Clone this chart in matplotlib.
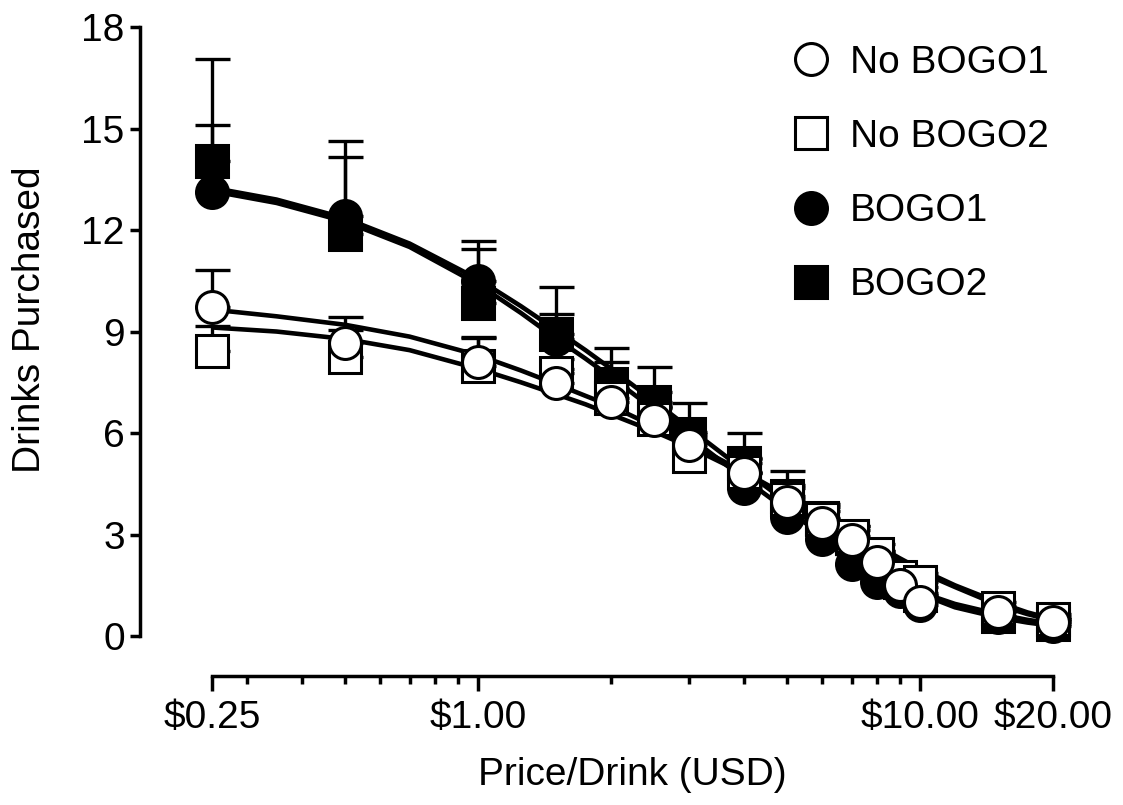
import numpy as np
import matplotlib
matplotlib.use("Agg")
import matplotlib.pyplot as plt
from matplotlib.lines import Line2D
from matplotlib.ticker import FixedLocator, NullFormatter

plt.rcParams['font.family'] = ['Liberation Sans', 'DejaVu Sans']

# ---------------- data ----------------
prices = [0.25, 0.5, 1, 1.5, 2, 2.5, 3, 4, 5, 6, 7, 8, 9, 10, 15, 20]

no_bogo1 = [9.73, 8.65, 8.11, 7.49, 6.93, 6.38, 5.64, 4.83, 3.97, 3.34, 2.84, 2.20, 1.51, 1.01, 0.70, 0.42]
no_bogo1_err = [1.09, 0.78, 0.72, 0.40, 0.40, 0.40, 0.40, 0.40, 0.40, 0.35, 0.30, 0.30, 0.25, 0.25, 0.20, 0.15]

no_bogo2 = [8.42, 8.24, 7.97, 7.78, 7.05, 6.41, 5.33, 4.85, 4.05, 3.45, 2.95, 2.42, 1.75, 1.60, 0.82, 0.49]
no_bogo2_err = [0.75, 0.80, 0.85, 0.40, 0.40, 0.40, 0.40, 0.40, 0.40, 0.35, 0.30, 0.30, 0.25, 0.25, 0.20, 0.15]

bogo1 = [13.13, 12.40, 10.50, 8.79, 7.30, 6.75, 5.44, 4.38, 3.52, 2.87, 2.13, 1.60, 1.33, 0.93, 0.55, 0.30]
bogo1_err = [1.97, 1.77, 0.93, 0.73, 0.81, 0.45, 0.45, 0.45, 0.40, 0.35, 0.30, 0.30, 0.25, 0.25, 0.20, 0.15]

bogo2 = [14.04, 11.88, 9.83, 8.92, 7.44, 6.93, 5.96, 5.12, 4.14, 3.50, 2.90, 2.20, 1.60, 1.20, 0.60, 0.35]
bogo2_err = [3.01, 2.75, 1.86, 1.41, 1.08, 1.03, 0.92, 0.87, 0.74, 0.40, 0.35, 0.30, 0.25, 0.25, 0.20, 0.15]

# fitted demand curves
curve_prices = [0.25, 0.35, 0.5, 0.7, 1, 1.25, 1.5, 1.75, 2, 2.5, 3, 4, 5, 6, 7, 8, 9, 10, 12, 15, 17.5, 20]
curve_no_bogo1 = [9.65, 9.45, 9.20, 8.85, 8.30, 7.85, 7.45, 7.10, 6.80, 6.20, 5.70, 4.85, 4.15, 3.55, 3.05, 2.60, 2.20, 1.90, 1.45, 0.92, 0.65, 0.46]
curve_no_bogo2 = [9.12, 9.00, 8.78, 8.45, 7.90, 7.50, 7.15, 6.85, 6.55, 6.05, 5.60, 4.80, 4.15, 3.60, 3.10, 2.68, 2.30, 1.98, 1.50, 1.00, 0.70, 0.50]
curve_bogo1 = [13.15, 12.80, 12.25, 11.50, 10.40, 9.55, 8.80, 8.20, 7.65, 6.70, 5.90, 4.65, 3.72, 3.00, 2.42, 1.95, 1.58, 1.25, 0.85, 0.55, 0.40, 0.30]
curve_bogo2 = [13.25, 12.90, 12.35, 11.60, 10.55, 9.75, 9.05, 8.45, 7.90, 6.95, 6.15, 4.90, 3.95, 3.20, 2.60, 2.10, 1.70, 1.30, 0.95, 0.65, 0.48, 0.37]

labels = ['No BOGO1', 'No BOGO2', 'BOGO1', 'BOGO2']
x_major = [0.25, 1, 10, 20]
x_major_labels = ['\\$0.25', '\\$1.00', '\\$10.00', '\\$20.00']
x_minor = [0.3, 0.4, 0.5, 0.6, 0.7, 0.8, 0.9, 2, 3, 4, 5, 6, 7, 8, 9]
y_ticks = [0, 3, 6, 9, 12, 15, 18]

# ---------------- styling ----------------
FS = 28
MS = 23
MEW = 2.2
LW_CURVE = 3.3
LW_ERR = 2.4
CAP = 12.6

fig = plt.figure(figsize=(11.23, 8.05), dpi=100)
ax = fig.add_axes([140 / 1123, 1 - 676 / 805, 913 / 1123, 649 / 805])
ax.set_xscale('log')
ax.set_xlim(0.25 * 10 ** (-72 / 442), 20)
ax.set_ylim(-1.18, 18)

# curves
for cy in [curve_bogo2, curve_bogo1, curve_no_bogo2, curve_no_bogo1]:
    ax.plot(curve_prices, cy, color='black', lw=LW_CURVE, zorder=2,
            solid_capstyle='butt', solid_joinstyle='round', clip_on=False)

# error bars (upper only)
for vals, err in [(bogo2, bogo2_err), (bogo1, bogo1_err),
                  (no_bogo2, no_bogo2_err), (no_bogo1, no_bogo1_err)]:
    ax.errorbar(prices, vals, yerr=[np.zeros(len(err)), err], fmt='none',
                ecolor='black', elinewidth=LW_ERR, capsize=CAP,
                capthick=LW_ERR, zorder=3, clip_on=False)

# markers
series = [
    (bogo2, 's', 'black', 4),
    (bogo1, 'o', 'black', 5),
    (no_bogo2, 's', 'white', 6),
    (no_bogo1, 'o', 'white', 7),
]
for vals, mk, fc, z in series:
    ax.plot(prices, vals, ls='none', marker=mk, ms=MS, mfc=fc, mec='black',
            mew=MEW, zorder=z, clip_on=False)

# axes styling
for s in ['top', 'right']:
    ax.spines[s].set_visible(False)
ax.spines['left'].set_bounds(0, 18)
ax.spines['bottom'].set_bounds(0.25, 20)
ax.spines['left'].set_linewidth(2.5)
ax.spines['bottom'].set_linewidth(2.5)

ax.set_yticks(y_ticks)
ax.set_yticklabels([str(v) for v in y_ticks])
ax.xaxis.set_major_locator(FixedLocator(x_major))
ax.set_xticklabels(x_major_labels)
ax.xaxis.set_minor_locator(FixedLocator(x_minor))
ax.xaxis.set_minor_formatter(NullFormatter())

ax.tick_params(axis='y', which='major', direction='out', length=7, width=2.5,
               labelsize=FS, pad=4)
ax.tick_params(axis='x', which='major', direction='out', length=11, width=2.5,
               labelsize=FS, pad=6)
ax.tick_params(axis='x', which='minor', direction='out', length=6, width=2.5)

ax.set_ylabel('Drinks Purchased', fontsize=FS)
ax.yaxis.set_label_coords(-0.1008, 0.549)
ax.set_xlabel('Price/Drink (USD)', fontsize=FS)
ax.xaxis.set_label_coords(0.539, -0.125)

# legend
handles = [
    Line2D([], [], ls='none', marker='o', ms=MS, mfc='white', mec='black', mew=MEW),
    Line2D([], [], ls='none', marker='s', ms=MS, mfc='white', mec='black', mew=MEW),
    Line2D([], [], ls='none', marker='o', ms=MS, mfc='black', mec='black', mew=MEW),
    Line2D([], [], ls='none', marker='s', ms=MS, mfc='black', mec='black', mew=MEW),
]
ax.legend(handles, labels, loc='upper left', bbox_to_anchor=(791.5 / 1123, 1 - 45 / 805),
          bbox_transform=fig.transFigure, frameon=False, fontsize=FS,
          handlelength=1.0, handletextpad=0.5, labelspacing=0.98,
          borderpad=0, borderaxespad=0)

fig.savefig('out.png', dpi=100)
